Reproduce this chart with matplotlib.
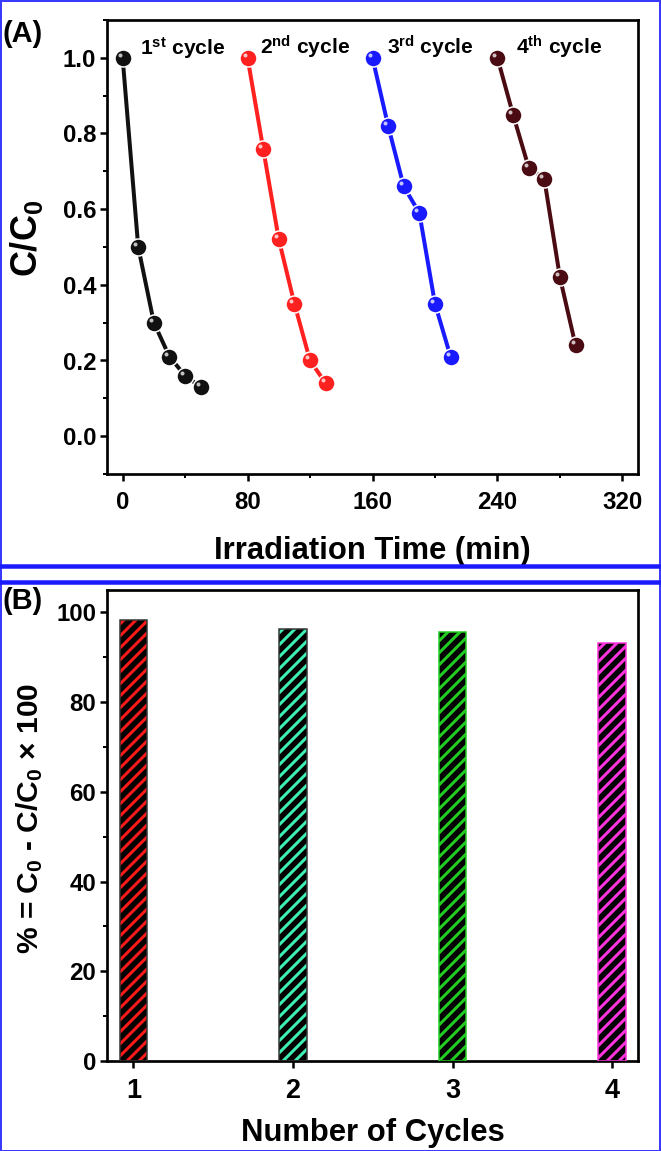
#!/usr/bin/env python
"""Photocatalytic cycling: C/C0 decay over four runs (A) and removal % per cycle (B)."""
import matplotlib

matplotlib.use("Agg")
import matplotlib.pyplot as plt
from matplotlib import font_manager
from matplotlib.patches import Rectangle
from matplotlib.lines import Line2D
from matplotlib.ticker import MultipleLocator
from matplotlib.transforms import ScaledTranslation

# ---- data ----
cycle1_t = [0, 10, 20, 30, 40, 50]
cycle1_c = [1.00, 0.50, 0.30, 0.21, 0.16, 0.13]
cycle2_t = [80, 90, 100, 110, 120, 130]
cycle2_c = [1.00, 0.76, 0.52, 0.35, 0.20, 0.14]
cycle3_t = [160, 170, 180, 190, 200, 210]
cycle3_c = [1.00, 0.82, 0.66, 0.59, 0.35, 0.21]
cycle4_t = [240, 250, 260, 270, 280, 290]
cycle4_c = [1.00, 0.85, 0.71, 0.68, 0.42, 0.24]
cycle_labels = [r"1$^{\mathrm{st}}$ cycle", r"2$^{\mathrm{nd}}$ cycle",
                r"3$^{\mathrm{rd}}$ cycle", r"4$^{\mathrm{th}}$ cycle"]
label_x = [11, 88, 169, 252]

cycles = [1, 2, 3, 4]
removal_pct = [98.4, 96.4, 95.6, 93.2]

# ---- fonts ----
have = {f.name for f in font_manager.fontManager.ttflist}
main_font = "Liberation Sans Narrow" if "Liberation Sans Narrow" in have else "Liberation Sans"
plt.rcParams["font.family"] = [main_font, "DejaVu Sans"]
plt.rcParams["font.weight"] = "bold"
plt.rcParams["mathtext.fontset"] = "custom"
plt.rcParams["mathtext.rm"] = f"{main_font}:bold"
plt.rcParams["mathtext.bf"] = f"{main_font}:bold"
plt.rcParams["mathtext.it"] = f"{main_font}:bold"
plt.rcParams["hatch.linewidth"] = 3.0

# dpi 72 -> 1pt == 1px
DPI = 72
W, H = 661, 1151
fig = plt.figure(figsize=(W / DPI, H / DPI), dpi=DPI)
fig.patch.set_facecolor("white")


def px_axes(left, top, right, bottom):
    return fig.add_axes([left / W, 1 - bottom / H, (right - left) / W, (bottom - top) / H])


def style(ax):
    for s in ax.spines.values():
        s.set_linewidth(2.7)
    ax.tick_params(which="major", direction="out", length=7, width=2.5, labelsize=24, pad=4)
    ax.tick_params(which="minor", direction="out", length=4, width=2)
    for lab in ax.get_xticklabels() + ax.get_yticklabels():
        lab.set_fontweight("bold")


# ---- panel A ----
axA = px_axes(107, 20, 638, 474)
series = [(cycle1_t, cycle1_c, "#111111"), (cycle2_t, cycle2_c, "#ff2020"),
          (cycle3_t, cycle3_c, "#1a1aff"), (cycle4_t, cycle4_c, "#4a0c12")]
shine = ScaledTranslation(-3 / DPI, 3 / DPI, fig.dpi_scale_trans)
for t, c, col in series:
    axA.plot(t, c, "-o", color=col, lw=4, ms=17, mfc=col, mec="white", mew=1.5, zorder=3)
    axA.plot(t, c, "o", color="white", ms=4, mew=0, alpha=0.75,
             transform=axA.transData + shine, zorder=4)
for x, lab in zip(label_x, cycle_labels):
    axA.text(x, 1.008, lab, fontsize=21, fontweight="bold", ha="left", va="baseline")

axA.set_xlim(-10, 330)
axA.set_ylim(-0.1, 1.1)
axA.xaxis.set_major_locator(MultipleLocator(80))
axA.xaxis.set_minor_locator(MultipleLocator(40))
axA.yaxis.set_major_locator(MultipleLocator(0.2))
axA.yaxis.set_minor_locator(MultipleLocator(0.1))
axA.yaxis.set_major_formatter(lambda v, p: f"{v:.1f}")
style(axA)
axA.tick_params(axis="x", which="major", pad=10)
axA.set_xlabel("Irradiation Time (min)", fontsize=31, fontweight="bold", labelpad=22)
axA.set_ylabel("C/C$_0$", fontsize=36, fontweight="bold")
axA.yaxis.set_label_coords(-0.117, 0.52)

# ---- panel B ----
axB = px_axes(107, 590, 638, 1061)
hatch_cols = ["#ff1a1a", "#3ef0b4", "#22cc22", "#ff33dd"]
border_cols = ["#333333", "#333333", "#22cc22", "#ff33dd"]
axB.bar(cycles, removal_pct, width=0.173, color="black", edgecolor=hatch_cols,
        hatch="//", linewidth=0, zorder=2)
axB.bar(cycles, removal_pct, width=0.173, fill=False, edgecolor=border_cols,
        linewidth=1.5, zorder=3)
axB.set_xlim(0.834, 4.162)
axB.set_ylim(0, 105)
axB.set_xticks(cycles)
axB.yaxis.set_major_locator(MultipleLocator(20))
axB.yaxis.set_minor_locator(MultipleLocator(10))
style(axB)
axB.tick_params(axis="x", labelsize=27, pad=10)
axB.set_xlabel("Number of Cycles", fontsize=31, fontweight="bold", labelpad=14)
axB.set_ylabel("% = C$_0$ - C/C$_0$ $\\times$ 100", fontsize=30, fontweight="bold")
axB.yaxis.set_label_coords(-0.117, 0.516)

# ---- panel tags, separators and frame ----
fig.text(3 / W, 1 - 34 / H, "(A)", fontsize=29, fontweight="bold", va="center", ha="left")
fig.text(3 / W, 1 - 601 / H, "(B)", fontsize=29, fontweight="bold", va="center", ha="left")
for y in (566, 582):
    fig.add_artist(Line2D([0, 1], [1 - y / H, 1 - y / H], transform=fig.transFigure,
                          color="#1a1aff", lw=4.5))
fig.add_artist(Rectangle((0.5 / W, 0.5 / H), 1 - 1.5 / W, 1 - 1.5 / H, transform=fig.transFigure,
                         fill=False, edgecolor="#3a3aff", lw=2))

fig.savefig("out.png", dpi=DPI)
